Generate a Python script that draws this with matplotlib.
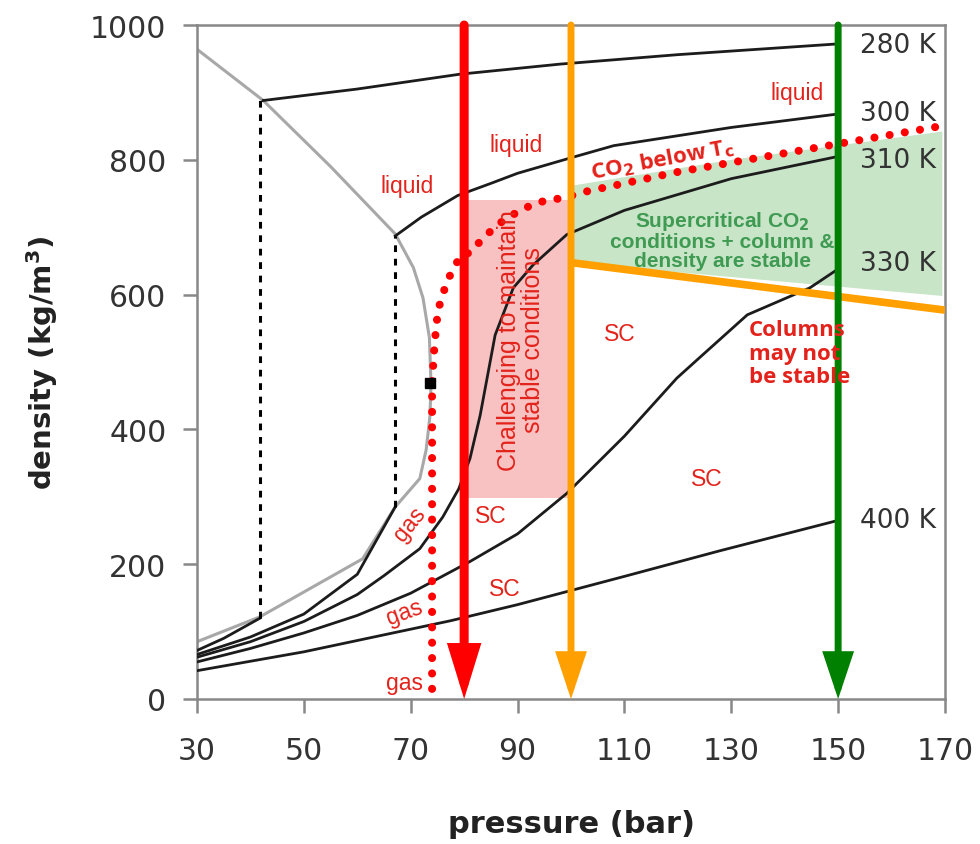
import matplotlib
matplotlib.use('Agg')
import matplotlib.pyplot as plt

# isotherms (pressure in bar, density in kg/m3)
t280_gas_p = [30, 35, 41.8]
t280_gas_d = [72, 90, 120]
t280_liq_p = [42.4, 60, 79.2, 98, 120, 150]
t280_liq_d = [888, 905, 927, 942, 956, 972]

t300_gas_p = [30, 40, 50, 60, 67.1]
t300_gas_d = [66, 92, 126, 185, 285]
t300_liq_p = [67.1, 72, 78.8, 85, 90, 100, 108, 130, 150]
t300_liq_d = [687, 715, 747, 765, 780, 803, 821, 848, 868]

t310_p = [30, 40, 50, 60, 65, 71.7, 76, 79, 81.1, 83, 85.8, 89.2, 92.9, 99.2, 110, 130, 150]
t310_d = [62, 85, 115, 155, 183, 223, 270, 312, 357, 421, 540, 610, 644, 689, 725, 772, 805]

t330_p = [30, 40, 50, 60, 70, 81.1, 90, 99.2, 110, 119.8, 124, 133, 144.7, 150]
t330_d = [55, 75, 98, 124, 157, 204, 245, 305, 390, 476, 506, 570, 610, 638]

t400_p = [30, 50, 77.4, 90, 110.5, 127.9, 150]
t400_d = [42, 70, 116, 140, 183, 220, 265]

# two-phase envelope
env_p = [30, 42.4, 55, 67.1, 70.5, 72.3, 73.5, 73.8, 73.6, 72.9, 71.7, 67.1, 61, 41.8, 30]
env_d = [964, 888, 790, 690, 640, 595, 536, 467, 420, 370, 327, 285, 208, 122, 85]
crit_p, crit_d = 73.6, 469

# tie lines (vapour pressure at 280 K and 300 K)
tie_p = [41.8, 67.1]
tie_lo = [120, 285]
tie_hi = [888, 687]

# CO2 below Tc boundary (red dots)
tc_p = [74, 74, 74, 74, 74.5, 75.1, 76.8, 79.4, 81.1, 83, 85.2, 87.5, 90.1, 92.9, 95.9, 98.7,
        101.7, 120, 151.7, 170]
tc_d = [15, 200, 400, 470, 530, 577, 620, 659, 662, 679, 696, 711, 723, 734, 741, 743,
        751, 782, 826, 851]

# shaded zones
pink_p = [80.5, 99.8]
pink_d = [298, 740]
green_top_p = [100.5, 130, 169.5]
green_top_d = [762, 800, 842]
green_bot_p = [100.5, 169.5]
green_bot_d = [647, 598]

# orange limit line
orange_p = [100.5, 170]
orange_d = [647, 577]

# pressure arrows
arrow_p = [80, 100, 150]
arrow_colors = ['#ff0000', '#ffa000', '#008000']

temp_labels = ['280 K', '300 K', '310 K', '330 K', '400 K']
temp_label_d = [970, 870, 800, 647, 265]

fig = plt.figure(figsize=(9.8, 8.45), dpi=100)
ax = fig.add_axes([197 / 980, 145 / 845, 748 / 980, 674 / 845])

iso_kw = dict(color='#1c1c1c', lw=2.0, zorder=3)
ax.plot(t280_gas_p, t280_gas_d, **iso_kw)
ax.plot(t280_liq_p, t280_liq_d, **iso_kw)
ax.plot(t300_gas_p, t300_gas_d, **iso_kw)
ax.plot(t300_liq_p, t300_liq_d, **iso_kw)
ax.plot(t310_p, t310_d, **iso_kw)
ax.plot(t330_p, t330_d, **iso_kw)
ax.plot(t400_p, t400_d, **iso_kw)

ax.plot(env_p, env_d, color='#a8a8a8', lw=2.2, zorder=2)
ax.plot(crit_p, crit_d, 's', color='black', ms=7, zorder=7)

for p, lo, hi in zip(tie_p, tie_lo, tie_hi):
    ax.plot([p, p], [lo, hi], color='black', lw=2.2, ls=(0, (2.2, 2.2)), zorder=3)

# shaded regions
ax.fill_between(pink_p, pink_d[0], pink_d[1], color='#f8c2c2', lw=0, zorder=1)
ax.fill(green_top_p + green_bot_p[::-1], green_top_d + green_bot_d[::-1],
        color='#c8e5c8', lw=0, zorder=1)

ax.plot(tc_p, tc_d, color='red', lw=5.8, ls=(0, (0.01, 1.9)), dash_capstyle='round', zorder=6)

ax.plot(orange_p, orange_d, color=arrow_colors[1], lw=5.5, solid_capstyle='butt', zorder=5)

heads = [(6.5, 0.8, 2.6), (5.0, 0.8, 2.4), (5.0, 0.8, 2.4)]
for p, c, (lw, hw, hl) in zip(arrow_p, arrow_colors, heads):
    ax.annotate('', xy=(p, 0), xytext=(p, 1000),
                arrowprops=dict(arrowstyle=f'-|>,head_width={hw},head_length={hl}',
                                color=c, lw=lw, shrinkA=0, shrinkB=0, joinstyle='miter'),
                zorder=6, annotation_clip=False)

# labels
red = '#e3231b'
arial = 'Liberation Sans'
txt = dict(color=red, family=arial, fontsize=16.5, ha='center', va='center', zorder=8)
ax.text(69.3, 762, 'liquid', **txt)
ax.text(89.7, 823, 'liquid', **txt)
ax.text(142.3, 900, 'liquid', **txt)
ax.text(109.2, 543, 'SC', **txt)
ax.text(125.4, 327, 'SC', **txt)
ax.text(85, 272, 'SC', **txt)
ax.text(87.6, 164, 'SC', **txt)
ax.text(69.9, 260, 'gas', rotation=51, **txt)
ax.text(68.9, 129, 'gas', rotation=20, **txt)
ax.text(68.9, 25, 'gas', **txt)

ax.text(90.6, 534, 'Challenging to maintain\nstable conditions', rotation=90,
        color=red, family=arial, fontsize=18, ha='center', va='center',
        linespacing=1.0, zorder=8)

ax.text(117, 801, r'CO$_\mathbf{2}$ below T$_\mathbf{c}$', rotation=10.5, color=red,
        family='Open Sans', fontweight='bold', fontsize=16, ha='center', va='center', zorder=8)

ax.text(128.4, 682, 'Supercritical CO$_\\mathbf{2}$\nconditions + column &\ndensity are stable',
        color='#3f9a52', family=arial, fontweight='bold', fontsize=15, ha='center',
        va='center', linespacing=1.0, zorder=8)

ax.text(133.3, 513, 'Columns\nmay not\nbe stable', color=red, family='Open Sans',
        fontweight='bold', fontsize=16, ha='left', va='center', linespacing=1.15, zorder=8)

for lab, d in zip(temp_labels, temp_label_d):
    ax.text(154.1, d, lab, color='#333333', fontsize=19, ha='left', va='center', zorder=8)

ax.set_xlim(30, 170)
ax.set_ylim(0, 1000)
ax.set_xticks(range(30, 171, 20))
ax.set_yticks(range(0, 1001, 200))
ax.tick_params(direction='out', length=10, width=1.8, color='#888888',
               labelsize=21.5, labelcolor='#333333', pad=12)
ax.tick_params(axis='x', pad=17)
for s in ax.spines.values():
    s.set_color('#888888')
    s.set_linewidth(1.8)

ax.set_xlabel('pressure (bar)', fontsize=22, fontweight='bold', color='#222222', labelpad=31)
ax.set_ylabel('density (kg/m$^\\mathbf{3}$)', fontsize=21, fontweight='bold', color='#222222',
              labelpad=22)

fig.savefig('out.png', dpi=100)
